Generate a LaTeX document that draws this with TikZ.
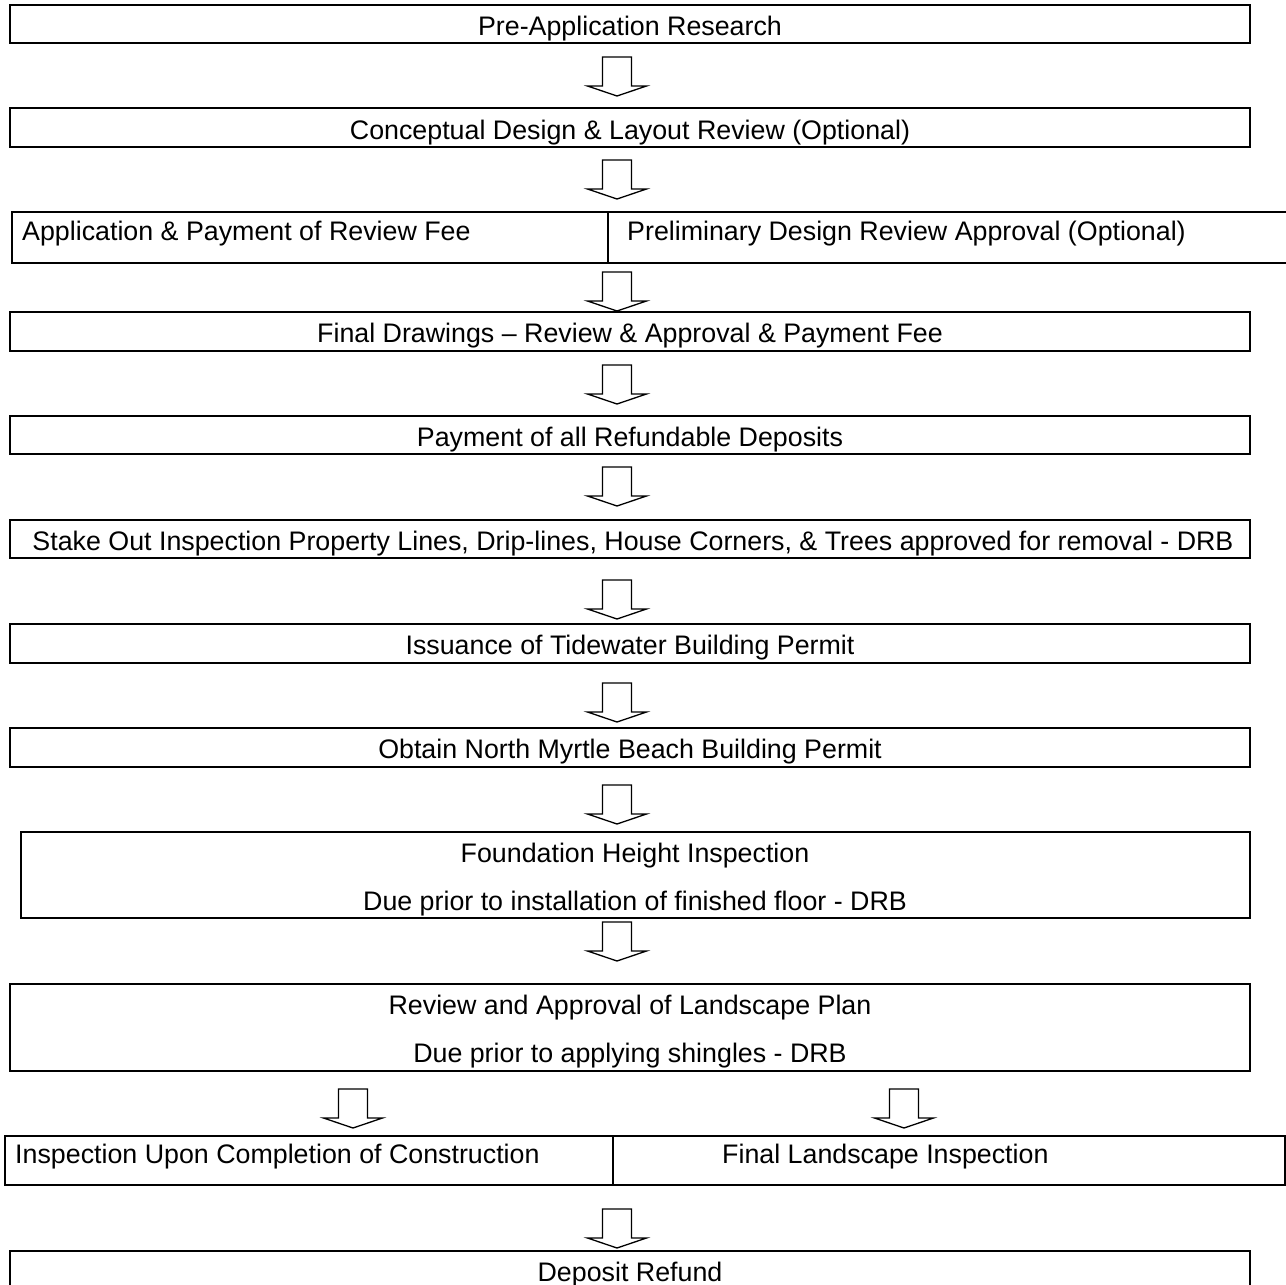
\documentclass[tikz,border=0pt]{standalone}
\usepackage{fontspec}
\setmainfont{Liberation Sans}
\begin{document}
\begin{tikzpicture}[x=1pt,y=-1pt,
  box/.style={draw=black,line width=1.8pt,rectangle,inner sep=0pt,outer sep=0pt},
  txt/.style={font=\fontsize{26.8}{31}\selectfont,inner sep=0pt,anchor=base},
  barrow/.pic={\draw[line width=1.3pt,line join=miter] (-14.5,0) -- (14.5,0) -- (14.5,29) -- (29.5,29) -- (0,39) -- (-29.5,29) -- (-14.5,29) -- cycle;}]
\useasboundingbox (0,0) rectangle (1286,1285);
\clip (0,0) rectangle (1286,1285);
% boxes
\node[box,minimum width=1240pt,minimum height=38pt] (b1) at (630,24) {};
\node[box,minimum width=1240pt,minimum height=39pt] (b2) at (630,127.5) {};
\node[box,minimum width=596pt,minimum height=51pt] (appL) at (310,237.5) {};
\node[box,minimum width=687pt,minimum height=51pt] (appR) at (951.5,237.5) {};
\node[box,minimum width=1240pt,minimum height=39pt] (fin) at (630,331.5) {};
\node[box,minimum width=1240pt,minimum height=38pt] (pay) at (630,435) {};
\node[box,minimum width=1240pt,minimum height=38pt] (stk) at (630,539) {};
\node[box,minimum width=1240pt,minimum height=39pt] (iss) at (630,643.5) {};
\node[box,minimum width=1240pt,minimum height=39pt] (obt) at (630,747.5) {};
\node[box,minimum width=1229pt,minimum height=86pt] (fnd) at (635.5,875) {};
\node[box,minimum width=1240pt,minimum height=87pt] (lnd) at (630,1027.5) {};
\node[box,minimum width=608pt,minimum height=49pt] (botL) at (309,1160.5) {};
\node[box,minimum width=672pt,minimum height=49pt] (botR) at (949,1160.5) {};
\node[box,minimum width=1240pt,minimum height=60pt] (dep) at (630,1281) {};
% texts
\node[txt] (t1) at (630,35) {Pre-Application Research};
\node[txt] (t2) at (630,139) {Conceptual Design \& Layout Review (Optional)};
\node[txt,anchor=base west] (t3a) at (22,240) {Application \& Payment of Review Fee};
\node[txt,anchor=base west] (t3b) at (627,240) {Preliminary Design Review Approval (Optional)};
\node[txt] (t4) at (630,342) {Final Drawings – Review \& Approval \& Payment Fee};
\node[txt] (t5) at (630,446) {Payment of all Refundable Deposits};
\node[txt] (t6) at (633,550) {Stake Out Inspection Property Lines, Drip-lines, House Corners, \& Trees approved for removal - DRB};
\node[txt] (t7) at (630,654) {Issuance of Tidewater Building Permit};
\node[txt] (t8) at (630,758) {Obtain North Myrtle Beach Building Permit};
\node[txt] (t9a) at (635,862) {Foundation Height Inspection};
\node[txt] (t9b) at (635,910) {Due prior to installation of finished floor - DRB};
\node[txt] (t10a) at (630,1014) {Review and Approval of Landscape Plan};
\node[txt] (t10b) at (630,1062) {Due prior to applying shingles - DRB};
\node[txt,anchor=base west] (t11a) at (15,1163) {Inspection Upon Completion of Construction};
\node[txt,anchor=base west] (t11b) at (722,1163) {Final Landscape Inspection};
\node[txt] (t12) at (630,1281) {Deposit Refund};
% block arrows
\pic (a1) at (617,57) {barrow};
\pic (a2) at (617,160) {barrow};
\pic (a3) at (617,272) {barrow};
\pic (a4) at (617,365) {barrow};
\pic (a5) at (617,467) {barrow};
\pic (a6) at (617,580) {barrow};
\pic (a7) at (617,683) {barrow};
\pic (a8) at (617,785) {barrow};
\pic (a9) at (617,922) {barrow};
\pic (a10) at (353,1089) {barrow};
\pic (a11) at (904,1089) {barrow};
\pic (a12) at (617,1209) {barrow};
\end{tikzpicture}
\end{document}
